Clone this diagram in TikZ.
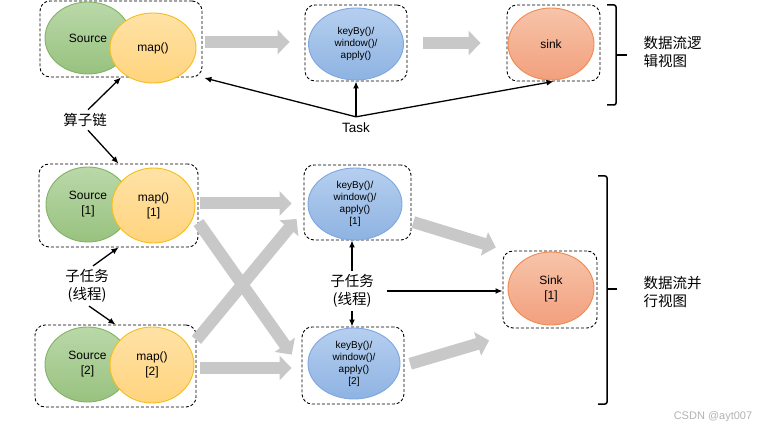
\documentclass[tikz,border=0pt]{standalone}
\usepackage{fontspec}
\setmainfont{Liberation Sans}
\newfontfamily\cjk{Noto Sans CJK SC}
\usetikzlibrary{arrows.meta,shapes.geometric}
\definecolor{srctop}{HTML}{BAD8A9}
\definecolor{srcbot}{HTML}{98C27F}
\definecolor{srcline}{HTML}{82B366}
\definecolor{maptop}{HTML}{FFE2A6}
\definecolor{mapbot}{HTML}{FFD47E}
\definecolor{mapline}{HTML}{F5BE1E}
\definecolor{optop}{HTML}{B6CFEF}
\definecolor{opbot}{HTML}{8EB3E2}
\definecolor{opline}{HTML}{7EA6E0}
\definecolor{sinktop}{HTML}{F7C4AA}
\definecolor{sinkbot}{HTML}{F2A07D}
\definecolor{sinkline}{HTML}{EE8A52}
\definecolor{flowgray}{HTML}{C8C8C8}
\begin{document}
\begin{tikzpicture}[x=1pt,y=-1pt,
    grp/.style={draw, dash pattern=on 3pt off 2pt, line width=0.9pt, rounded corners=10pt},
    op/.style={ellipse, draw, line width=0.9pt, align=center, inner sep=0pt,
      font=\fontsize{12}{15}\selectfont},
    src/.style={op, draw=srcline, top color=srctop, bottom color=srcbot},
    mapop/.style={op, draw=mapline, top color=maptop, bottom color=mapbot},
    keyop/.style={op, draw=opline, top color=optop, bottom color=opbot,
      font=\fontsize{10}{12}\selectfont},
    sinkop/.style={op, draw=sinkline, top color=sinktop, bottom color=sinkbot},
    flow/.style={line width=12pt, draw=flowgray, -{Triangle[length=12pt,width=24pt]}},
    conn/.style={line width=1.3pt, -{Latex[length=7pt,width=6pt]}},
    lbl/.style={font=\cjk\fontsize{14.5}{18}\selectfont, align=center},
    brace/.style={line width=1.5pt, rounded corners=2pt}
  ]
  \useasboundingbox (0,0) rectangle (771,430);

  % groups
  \node[grp, minimum width=162pt, minimum height=76pt] (b1) at (121,39) {};
  \node[grp, minimum width=102pt, minimum height=76pt] (b2) at (356,43) {};
  \node[grp, minimum width=93pt, minimum height=76pt] (b3) at (553.5,43) {};
  \node[grp, minimum width=159pt, minimum height=83pt] (b4) at (118.5,205.5) {};
  \node[grp, minimum width=107pt, minimum height=75pt] (b5) at (357.5,202.5) {};
  \node[grp, minimum width=161pt, minimum height=82pt] (b6) at (115.5,366) {};
  \node[grp, minimum width=102pt, minimum height=77pt] (b7) at (353,365.5) {};
  \node[grp, minimum width=94pt, minimum height=77pt] (b8) at (550,289.5) {};

  % operators
  \node[src, minimum width=86pt, minimum height=72pt] (src0) at (88,38) {Source};
  \node[mapop, minimum width=86pt, minimum height=70pt] (map0) at (153,48) {map()};
  \node[keyop, minimum width=95pt, minimum height=72pt] (key0) at (356,44) {keyBy()/\\window()/\\apply()};
  \node[sinkop, minimum width=86pt, minimum height=72pt] (sink0) at (551,44) {sink};
  \node[src, minimum width=84pt, minimum height=75pt] (src1) at (88,204.5) {Source\\{[1]}};
  \node[mapop, minimum width=83pt, minimum height=75pt] (map1) at (153.5,205.5) {map()\\{[1]}};
  \node[src, minimum width=85pt, minimum height=75pt] (src2) at (87.5,364.5) {Source\\{[2]}};
  \node[mapop, minimum width=84pt, minimum height=76pt] (map2) at (152,365) {map()\\{[2]}};
  \node[keyop, minimum width=94pt, minimum height=72pt] (key1) at (355,204) {keyBy()/\\window()/\\apply()\\{[1]}};
  \node[keyop, minimum width=92pt, minimum height=71pt] (key2) at (354,363.5) {keyBy()/\\window()/\\apply()\\{[2]}};
  \node[sinkop, minimum width=86pt, minimum height=73pt] (sink1) at (551,288.5) {Sink\\{[1]}};

  % data flow
  \draw[flow, shorten <=3pt, shorten >=15pt] ([yshift=-3pt]b1.east) -- ([yshift=-3pt]b1.east -| b2.west);
  \draw[flow, shorten <=16pt, shorten >=26pt] (b2.east) -- (b3.west);
  \draw[flow, shorten <=2pt, shorten >=12pt] ([yshift=2pt]b4.east) -- ([yshift=2pt]b4.east -| b5.west);
  \draw[flow, shorten <=4pt, shorten >=10pt] ([yshift=-2pt]b6.east) -- ([yshift=-2pt]b6.east -| b7.west);
  \draw[flow, shorten >=17pt] ([yshift=-17pt]b4.east) -- ([yshift=-3pt]b7.west);
  \draw[flow, shorten >=11pt] ([yshift=26pt]b6.east) -- ([yshift=-8pt]b5.west);
  \draw[flow, shorten <=2pt, shorten >=7pt] ([yshift=-19pt]b5.east) -- ([yshift=40pt]b8.west);
  \draw[flow, shorten <=6pt, shorten >=14pt] (b7.east) -- ([yshift=-47pt]b8.west);

  % labels
  \node[lbl] (chain) at (85,120) {算子链};
  \node[lbl] (sub1) at (87,286) {子任务\\(线程)};
  \node[lbl] (sub2) at (352,291) {子任务\\(线程)};
  \node[font=\fontsize{13.5}{16}\selectfont, inner sep=6pt] (task) at (356,128) {Task};
  \node[lbl, anchor=west, align=left] (logic) at (640,52) {数据流逻\\辑视图};
  \node[lbl, anchor=west, align=left] (para) at (640,292) {数据流并\\行视图};
  \node[text=black!30, font=\fontsize{11}{13}\selectfont] (wm) at (713,417) {CSDN @ayt007};

  \begin{scope}[conn]
    \draw ([xshift=3pt]chain.north) -- (b1.south);
    \draw ([xshift=3pt]chain.south) -- (b4.north);
    \draw ([xshift=6pt]sub1.north) -- (b4.south);
    \draw ([xshift=2pt]sub1.south) -- (b6.north);
    \draw (task.north) -- (b2.south);
    \draw[shorten >=2pt] (task.north) -- (b1.south east);
    \draw (task.north) -- (b3.south);
    \draw (sub2.north) -- (sub2.north |- b5.south);
    \draw (sub2.south) -- (sub2.south |- b7.north);
    \draw[shorten <=10pt] (sub2.east) -- (sub2.east -| b8.west);
  \end{scope}

  % views
  \draw[brace] (607,5) -- (616,5) -- (616,105) -- (607,105);
  \draw[brace] (616,55) -- (627,55);
  \draw[brace] (598,176) -- (607,176) -- (607,404) -- (598,404);
  \draw[brace] (607,289) -- (617,289);
\end{tikzpicture}
\end{document}
